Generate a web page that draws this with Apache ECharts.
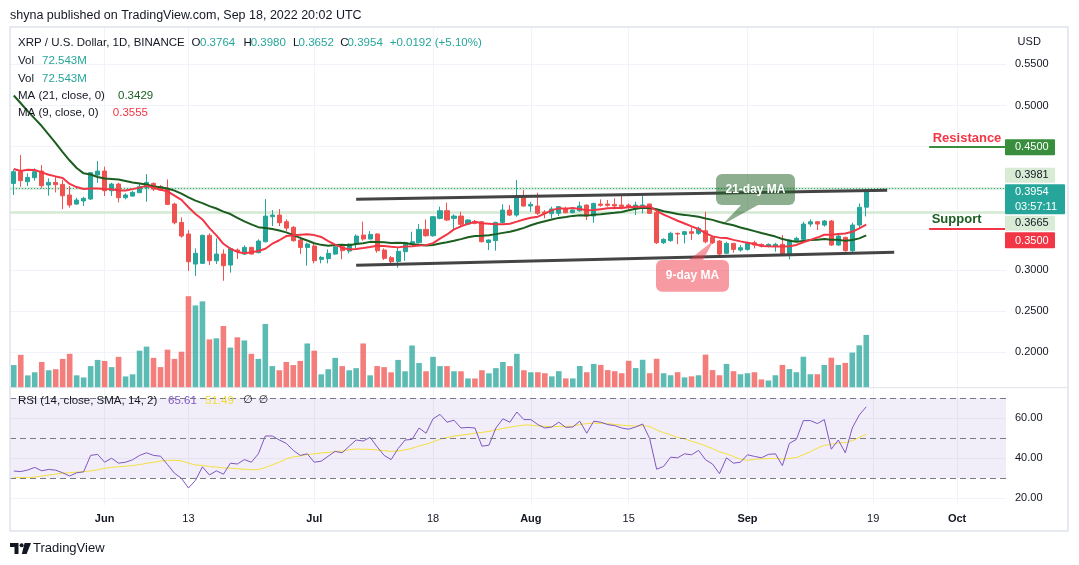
<!DOCTYPE html>
<html>
<head>
<meta charset="utf-8">
<script src="https://cdn.jsdelivr.net/npm/echarts@6/dist/echarts.min.js"></script>
<style>html,body{margin:0;padding:0;background:#fff}#c{width:1079px;height:565px}</style>
</head>
<body>
<div id="c"></div>
<script>
// ---------------- data ----------------
// daily candles, first candle = 2022-05-19, last = 2022-09-18
const firstDate = '2022-05-19';
const opens = [0.4053,0.4195,0.4074,0.4122,0.4203,0.4033,0.4065,0.4041,0.3912,0.3802,
0.3839,0.3863,0.4155,0.4203,0.3964,0.4045,0.3879,0.3899,0.3940,0.4001,
0.4053,0.4013,0.3984,0.3802,0.3579,0.3438,0.3073,0.3081,0.3421,0.3113,
0.3194,0.3061,0.3243,0.3194,0.3275,0.3211,0.3344,0.3648,0.3668,0.3587,
0.3519,0.3365,0.3275,0.3292,0.3130,0.3138,0.3194,0.3283,0.3231,0.3316,
0.3425,0.3377,0.3438,0.3243,0.3150,0.3105,0.3223,0.3324,0.3332,0.3494,
0.3417,0.3628,0.3721,0.3628,0.3656,0.3559,0.3587,0.3587,0.3336,0.3357,
0.3579,0.3729,0.3668,0.3883,0.3778,0.3778,0.3705,0.3685,0.3689,0.3750,
0.3697,0.3721,0.3790,0.3656,0.3802,0.3802,0.3798,0.3790,0.3790,0.3741,
0.3762,0.3802,0.3697,0.3332,0.3357,0.3446,0.3433,0.3466,0.3446,0.3478,
0.3397,0.3352,0.3203,0.3324,0.3243,0.3251,0.3332,0.3312,0.3292,0.3292,
0.3312,0.3182,0.3357,0.3373,0.3559,0.3587,0.3547,0.3596,0.3304,0.3397,
0.3235,0.3547,0.3764];
const highs = [0.4223,0.4398,0.4175,0.4236,0.4276,0.4114,0.4134,0.4094,0.4021,0.3879,
0.3891,0.4190,0.4325,0.4256,0.4061,0.4061,0.3932,0.3964,0.4061,0.4167,
0.4065,0.4033,0.4102,0.3818,0.3640,0.3486,0.3263,0.3433,0.3446,0.3385,
0.3251,0.3275,0.3263,0.3300,0.3283,0.3373,0.3863,0.3729,0.3741,0.3616,
0.3535,0.3405,0.3332,0.3332,0.3170,0.3251,0.3292,0.3292,0.3324,0.3433,
0.3587,0.3474,0.3446,0.3263,0.3170,0.3275,0.3344,0.3466,0.3559,0.3616,
0.3656,0.3770,0.3818,0.3677,0.3709,0.3616,0.3608,0.3596,0.3373,0.3587,
0.3798,0.3790,0.4094,0.3972,0.3830,0.3940,0.3729,0.3770,0.3778,0.3770,
0.3737,0.3830,0.3798,0.3818,0.3859,0.3851,0.3871,0.3920,0.3810,0.3830,
0.3912,0.3810,0.3709,0.3385,0.3466,0.3454,0.3474,0.3519,0.3527,0.3709,
0.3413,0.3365,0.3344,0.3332,0.3304,0.3344,0.3357,0.3324,0.3324,0.3332,
0.3425,0.3373,0.3405,0.3587,0.3616,0.3596,0.3608,0.3608,0.3425,0.3405,
0.3575,0.3810,0.3980];
const lows = [0.3912,0.4013,0.4021,0.4086,0.3993,0.3904,0.3944,0.3741,0.3758,0.3790,
0.3778,0.3851,0.4061,0.3899,0.3899,0.3822,0.3859,0.3891,0.3940,0.3830,
0.3960,0.3964,0.3790,0.3555,0.3393,0.2988,0.2927,0.3073,0.3061,0.3073,
0.2870,0.2968,0.3134,0.3182,0.3186,0.3203,0.3336,0.3535,0.3535,0.3474,
0.3344,0.3194,0.3053,0.3081,0.3081,0.3081,0.3182,0.3130,0.3203,0.3263,
0.3357,0.3373,0.3211,0.3122,0.3073,0.3028,0.3113,0.3316,0.3324,0.3405,
0.3405,0.3616,0.3596,0.3486,0.3535,0.3547,0.3555,0.3336,0.3243,0.3235,
0.3567,0.3656,0.3648,0.3770,0.3709,0.3668,0.3628,0.3628,0.3656,0.3689,
0.3689,0.3709,0.3608,0.3575,0.3770,0.3770,0.3737,0.3737,0.3737,0.3668,
0.3689,0.3681,0.3316,0.3316,0.3344,0.3316,0.3324,0.3365,0.3425,0.3324,
0.3316,0.3182,0.3194,0.3211,0.3223,0.3235,0.3263,0.3275,0.3275,0.3223,
0.3170,0.3130,0.3344,0.3365,0.3527,0.3486,0.3527,0.3292,0.3292,0.3223,
0.3203,0.3506,0.3652];
const closes = [0.4195,0.4086,0.4126,0.4195,0.4025,0.4065,0.4037,0.3903,0.3790,0.3851,
0.3871,0.4183,0.4203,0.3964,0.4045,0.3879,0.3912,0.3944,0.4013,0.4065,
0.3984,0.3972,0.3798,0.3575,0.3413,0.3101,0.3203,0.3421,0.3113,0.3194,
0.3053,0.3259,0.3227,0.3275,0.3194,0.3352,0.3656,0.3668,0.3575,0.3510,
0.3357,0.3275,0.3316,0.3113,0.3154,0.3203,0.3283,0.3235,0.3316,0.3413,
0.3377,0.3433,0.3235,0.3142,0.3101,0.3227,0.3332,0.3344,0.3494,0.3417,
0.3648,0.3721,0.3608,0.3656,0.3555,0.3608,0.3567,0.3344,0.3365,0.3579,
0.3729,0.3668,0.3883,0.3778,0.3798,0.3689,0.3689,0.3742,0.3770,0.3697,
0.3729,0.3778,0.3656,0.3810,0.3786,0.3786,0.3778,0.3770,0.3762,0.3790,
0.3790,0.3689,0.3332,0.3373,0.3446,0.3438,0.3466,0.3446,0.3506,0.3344,
0.3332,0.3194,0.3324,0.3251,0.3271,0.3324,0.3304,0.3292,0.3312,0.3312,
0.3182,0.3365,0.3385,0.3559,0.3587,0.3559,0.3596,0.3304,0.3413,0.3235,
0.3547,0.3762,0.3954];
// volume in millions
const volumes = [31.1,45.2,16.9,21.2,35.3,24.0,25.4,39.6,46.6,17.0,
14.1,29.7,38.2,36.8,28.3,42.4,15.5,18.4,50.9,56.5,
41.0,28.3,52.3,39.6,49.5,125.8,113.1,118.7,66.4,67.9,
84.8,55.1,69.3,65.0,46.6,39.6,87.6,29.7,24.0,35.3,
31.1,36.8,60.8,50.9,18.4,25.4,41.0,29.7,24.0,26.9,
60.8,17.0,29.7,28.3,21.2,38.2,22.6,58.0,33.9,22.6,
42.4,29.7,29.7,22.6,22.6,12.7,12.7,24.0,19.8,26.9,
35.3,29.7,46.6,24.0,21.2,21.3,19.9,15.6,22.7,12.8,
12.8,29.8,21.3,32.7,31.3,24.2,22.7,19.9,37.0,27.0,
38.4,19.9,39.8,19.9,17.1,21.3,14.2,15.6,17.1,45.5,
24.2,17.1,32.7,22.7,18.5,19.9,21.3,11.4,9.9,17.1,
31.3,25.6,21.3,42.6,18.5,18.5,31.3,41.2,31.3,34.1,
48.3,58.3,72.543];
const rsiValues = [33.5,33.2,34.0,35.3,33.6,34.3,33.9,32.6,31.0,32.6,
33.1,41.3,41.8,37.9,39.9,37.4,37.9,39.1,41.3,42.6,
41.3,40.9,36.7,32.4,29.8,25.0,28.8,35.6,31.5,33.6,
31.9,37.4,37.0,39.2,37.9,42.1,51.0,51.0,49.0,47.3,
43.8,41.3,42.1,37.9,38.4,40.9,43.3,42.6,45.9,49.0,
48.5,50.3,45.6,41.3,39.2,44.7,49.0,49.3,55.0,52.4,
59.6,61.8,57.9,58.9,55.0,55.3,55.0,45.9,46.4,55.0,
59.6,57.9,63.0,59.2,59.2,56.7,55.0,55.5,57.9,55.3,
55.5,58.4,52.4,58.4,57.9,56.7,56.2,55.0,54.4,55.5,
57.0,49.8,34.4,35.8,40.4,40.1,42.1,41.6,43.8,39.1,
37.0,32.2,40.1,37.4,37.9,41.6,40.8,40.1,41.8,42.1,
36.2,47.3,49.3,58.7,58.7,57.2,59.2,44.4,49.0,42.6,
55.0,61.5,65.61];
// indicator values before enough visible history exists
const ma21Head = [0.5121,0.5027,0.4932,0.4841,0.4750,0.4647,0.4543,0.4434,0.4331,0.4240,
0.4175,0.4161,0.4130,0.4112,0.4106,0.4100,0.4082,0.4063,0.4051,0.4039];
const ma9Head = [0.4228,0.4203,0.4219,0.4215,0.4187,0.4159,0.4138,0.4118];
const rsiMaHead = [30.2,30.2,30.2,30.5,31.0,31.5,31.9,32.4,32.7,32.9,33.1,33.6,34.1];

// axis ticks
const xTickIdx = [13,25,43,60,74,88,105,123,135];
const xTickLabels = ['Jun','13','Jul','18','Aug','15','Sep','19','Oct'];
const xTickBold = [true,false,true,false,true,false,true,false,true];
const priceLabelTicks = [0.20,0.25,0.30,0.50,0.55];
const priceGridTicks = [0.20,0.25,0.30,0.35,0.40,0.45,0.50,0.55];
const rsiTicks = [20,40,60];
const rsiLevels = [30,50,70];

// drawings (bar index, price)
const trendUpper = [[49,0.3859],[125,0.3969]];
const trendLower = [[49,0.3057],[126,0.3215]];
const markedLevels = [0.3981,0.3665];
const lastPrice = 0.3954;
const resistanceSeg = [[131,0.45],[142,0.45]];
const supportSeg = [[131,0.35],[142,0.35]];

// ---------------- build ----------------
const FF = "'Liberation Sans', Arial, sans-serif";
const UP = '#26a69a', DOWN = '#ef5350';
const N = closes.length;
const idx = closes.map((_, i) => i);

function rolling(src, n, head) {
  return src.map((_, i) => {
    if (i < n - 1) return head[i];
    let s = 0; for (let k = i - n + 1; k <= i; k++) s += src[k];
    return s / n;
  });
}
const ma21 = rolling(closes, 21, ma21Head);
const ma9 = rolling(closes, 9, ma9Head);
const rsiMa = rolling(rsiValues, 14, rsiMaHead);

const candleData = idx.map(i => [i, opens[i], closes[i], lows[i], highs[i]]);
const volData = idx.map(i => ({
  value: [i, volumes[i]],
  itemStyle: { color: closes[i] >= opens[i] ? 'rgba(38,166,154,0.75)' : 'rgba(239,83,80,0.75)' }
}));

const chart = echarts.init(document.getElementById('c'), null, { renderer: 'canvas', width: 1079, height: 565 });

const xBase = {
  type: 'value', min: -0.54, max: 142,
  axisLine: { show: false, onZero: false },
  axisTick: { show: false, customValues: xTickIdx },
  splitLine: { show: true, lineStyle: { color: '#f0f3fa', width: 1 } }
};

function T(text, x, y, st) {
  return {
    type: 'text', x: x, y: y, z: 30, silent: true,
    style: Object.assign({
      text: text, fill: '#131722', fontSize: 11.5, fontFamily: FF,
      align: 'left', verticalAlign: 'middle', textAlign: 'left', textVerticalAlign: 'middle'
    }, st || {})
  };
}
function box(x, y, w, h, fill) {
  return { type: 'rect', z: 25, silent: true, shape: { x: x, y: y, width: w, height: h, r: 1 }, style: { fill: fill } };
}

const graphics = [
  // frame & pane separator
  { type: 'rect', z: 28, silent: true, shape: { x: 10, y: 27, width: 1058, height: 504 }, style: { fill: 'none', stroke: '#e0e3eb', lineWidth: 1.5 } },
  { type: 'line', z: 28, silent: true, shape: { x1: 10, y1: 387.7, x2: 1068, y2: 387.7 }, style: { stroke: '#e0e3eb', lineWidth: 1 } },
  // header
  T('shyna published on TradingView.com, Sep 18, 2022 20:02 UTC', 10, 15.5, { fontSize: 12.5 }),
  // legend
  T('XRP / U.S. Dollar, 1D, BINANCE', 18, 43),
  T('O', 191.4, 43), T('0.3764', 200, 43, { fill: UP }),
  T('H', 243.4, 43), T('0.3980', 250.7, 43, { fill: UP }),
  T('L', 293, 43), T('0.3652', 298.6, 43, { fill: UP }),
  T('C', 340.3, 43), T('0.3954', 347.6, 43, { fill: UP }),
  T('+0.0192 (+5.10%)', 389.7, 43, { fill: UP }),
  T('Vol', 18, 61), T('72.543M', 42, 61, { fill: UP }),
  T('Vol', 18, 78.6), T('72.543M', 42, 78.6, { fill: UP }),
  T('MA (21, close, 0)', 18, 96), T('0.3429', 118, 96, { fill: '#1b5e20' }),
  T('MA (9, close, 0)', 18, 113), T('0.3555', 112.8, 113, { fill: '#f23645' }),
  T('USD', 1017.6, 42, { fontSize: 11 }),
  // RSI legend
  T('RSI (14, close, SMA, 14, 2)', 18, 400.5),
  T('65.61', 168, 400.5, { fill: '#7e57c2' }),
  T('51.49', 205, 400.5, { fill: '#f2dc3a' }),
  T('\u2205', 243, 400.5, { fontFamily: "'DejaVu Sans', sans-serif", fontSize: 11 }),
  T('\u2205', 258.6, 400.5, { fontFamily: "'DejaVu Sans', sans-serif", fontSize: 11 }),
  // right-side price boxes
  box(1005, 139.3, 50, 16, '#388e3c'), T('0.4500', 1015, 147.3, { fill: '#ffffff', fontSize: 11 }),
  box(1005, 167.7, 50, 15, '#d7ebd5'), T('0.3981', 1015, 175.2, { fontSize: 11 }),
  box(1005, 184.3, 60, 30, '#26a69a'), T('0.3954', 1015, 192.3, { fill: '#ffffff', fontSize: 11 }),
  T('03:57:11', 1015, 206.8, { fill: '#ffffff', fontSize: 11 }),
  box(1005, 215.7, 50, 15, '#d7ebd5'), T('0.3665', 1015, 223.3, { fontSize: 11 }),
  box(1005, 232.3, 50, 16, '#f23645'), T('0.3500', 1015, 240.5, { fill: '#ffffff', fontSize: 11 }),
  // Resistance / Support labels
  T('Resistance', 932.7, 138, { fill: '#f23645', fontWeight: 'bold', fontSize: 13 }),
  T('Support', 931.7, 219.3, { fill: '#1b5e20', fontWeight: 'bold', fontSize: 13 }),
  // callouts
  { type: 'rect', z: 26, silent: true, shape: { x: 716, y: 174, width: 79, height: 31, r: 6 }, style: { fill: 'rgba(27,94,32,0.5)' } },
  { type: 'polygon', z: 26, silent: true, shape: { points: [[741, 205], [758, 205], [722, 225]] }, style: { fill: 'rgba(27,94,32,0.5)' } },
  T('21-day MA', 755.5, 189.5, { fill: '#ffffff', fontWeight: 'bold', fontSize: 12, align: 'center', textAlign: 'center' }),
  { type: 'rect', z: 26, silent: true, shape: { x: 656, y: 260, width: 73, height: 31.7, r: 6 }, style: { fill: 'rgba(242,54,69,0.5)' } },
  { type: 'polygon', z: 26, silent: true, shape: { points: [[689, 260], [703, 260], [714, 240]] }, style: { fill: 'rgba(242,54,69,0.5)' } },
  T('9-day MA', 692.5, 276, { fill: '#ffffff', fontWeight: 'bold', fontSize: 12, align: 'center', textAlign: 'center' }),
  // logo
  { type: 'polygon', z: 30, silent: true, shape: { points: [[10,543],[18.5,543],[18.5,554],[14.5,554],[14.5,547],[10,547]] }, style: { fill: '#131722' } },
  { type: 'circle', z: 30, silent: true, shape: { cx: 21.6, cy: 545.2, r: 2 }, style: { fill: '#131722' } },
  { type: 'polygon', z: 30, silent: true, shape: { points: [[24.6,543],[31,543],[26.6,554],[21.8,554]] }, style: { fill: '#131722' } },
  T('TradingView', 33, 548.5, { fontSize: 13 })
];

const option = {
  animation: false,
  backgroundColor: '#ffffff',
  textStyle: { fontFamily: FF },
  grid: [
    { left: 10, top: 26.9, width: 996, height: 360.8, outerBoundsMode: 'none', containLabel: false },
    { left: 10, top: 388, width: 996, height: 117, outerBoundsMode: 'none', containLabel: false }
  ],
  xAxis: [
    Object.assign({ gridIndex: 0, axisLabel: { show: false } }, xBase),
    Object.assign({ gridIndex: 1 }, xBase, {
      axisLabel: {
        show: true, customValues: xTickIdx, margin: 8, fontSize: 11, color: '#131722', fontFamily: FF,
        formatter: function (v) {
          const k = xTickIdx.findIndex(t => Math.abs(t - v) < 1e-6);
          if (k < 0) return '';
          return xTickBold[k] ? '{b|' + xTickLabels[k] + '}' : xTickLabels[k];
        },
        rich: { b: { fontWeight: 'bold', fontSize: 11, color: '#131722', fontFamily: FF } }
      }
    })
  ],
  yAxis: [
    { gridIndex: 0, type: 'value', position: 'right', min: 0.157, max: 0.5955,
      axisLine: { show: false }, axisTick: { show: false, customValues: priceGridTicks },
      axisLabel: { customValues: priceLabelTicks, formatter: v => v.toFixed(4), margin: 9, fontSize: 11, color: '#131722', fontFamily: FF, align: 'left' },
      splitLine: { show: true, lineStyle: { color: '#f0f3fa', width: 1 } } },
    { gridIndex: 0, type: 'value', min: 0, max: 496, show: false },
    { gridIndex: 1, type: 'value', position: 'right', min: 16.5, max: 75,
      axisLine: { show: false }, axisTick: { show: false, customValues: rsiTicks },
      axisLabel: { customValues: rsiTicks, formatter: v => v.toFixed(2), margin: 9, fontSize: 11, color: '#131722', fontFamily: FF, align: 'left' },
      splitLine: { show: true, lineStyle: { color: '#f0f3fa', width: 1 } } }
  ],
  series: [
    { type: 'bar', name: 'Vol', xAxisIndex: 0, yAxisIndex: 1, data: volData, barWidth: 5.6, z: 1, silent: true },
    { type: 'candlestick', name: 'XRPUSD', xAxisIndex: 0, yAxisIndex: 0, data: candleData, barWidth: 4.6, z: 3, silent: true,
      itemStyle: { color: UP, color0: DOWN, borderColor: UP, borderColor0: DOWN, borderWidth: 1 },
      markLine: {
        z: 2, silent: true, symbol: ['none', 'none'], label: { show: false }, animation: false,
        data: [
          { yAxis: markedLevels[0], lineStyle: { color: '#d4e9d2', width: 2.5, type: 'solid' } },
          { yAxis: markedLevels[1], lineStyle: { color: '#d4e9d2', width: 2.5, type: 'solid' } },
          { yAxis: lastPrice, lineStyle: { color: UP, width: 1, type: [1, 2] } },
          [{ coord: resistanceSeg[0], lineStyle: { color: '#388e3c', width: 2, type: 'solid' } }, { coord: resistanceSeg[1] }],
          [{ coord: supportSeg[0], lineStyle: { color: '#f23645', width: 2, type: 'solid' } }, { coord: supportSeg[1] }]
        ]
      }
    },
    { type: 'line', name: 'MA21', xAxisIndex: 0, yAxisIndex: 0, data: idx.map(i => [i, ma21[i]]), showSymbol: false, z: 4, silent: true,
      lineStyle: { color: '#1b5e20', width: 2 },
      markLine: {
        z: 6, silent: true, symbol: ['none', 'none'], label: { show: false }, animation: false,
        lineStyle: { color: '#444444', width: 3, type: 'solid' },
        data: [
          [{ coord: trendUpper[0] }, { coord: trendUpper[1] }],
          [{ coord: trendLower[0] }, { coord: trendLower[1] }]
        ]
      }
    },
    { type: 'line', name: 'MA9', xAxisIndex: 0, yAxisIndex: 0, data: idx.map(i => [i, ma9[i]]), showSymbol: false, z: 5, silent: true,
      lineStyle: { color: '#f23645', width: 2 } },
    { type: 'line', name: 'RSI', xAxisIndex: 1, yAxisIndex: 2, data: idx.map(i => [i, rsiValues[i]]), showSymbol: false, z: 4, silent: true,
      lineStyle: { color: '#7e57c2', width: 1 },
      markArea: { silent: true, itemStyle: { color: 'rgba(126,87,194,0.1)' }, data: [[{ yAxis: rsiLevels[0] }, { yAxis: rsiLevels[2] }]] },
      markLine: { silent: true, symbol: ['none', 'none'], label: { show: false }, animation: false,
        lineStyle: { color: '#787b86', width: 1, type: [6, 4] },
        data: rsiLevels.map(v => ({ yAxis: v })) }
    },
    { type: 'line', name: 'RSI MA', xAxisIndex: 1, yAxisIndex: 2, data: idx.map(i => [i, rsiMa[i]]), showSymbol: false, z: 3, silent: true,
      lineStyle: { color: '#f5df3d', width: 1 } }
  ],
  graphic: { elements: graphics }
};
chart.setOption(option);
</script>
</body>
</html>
